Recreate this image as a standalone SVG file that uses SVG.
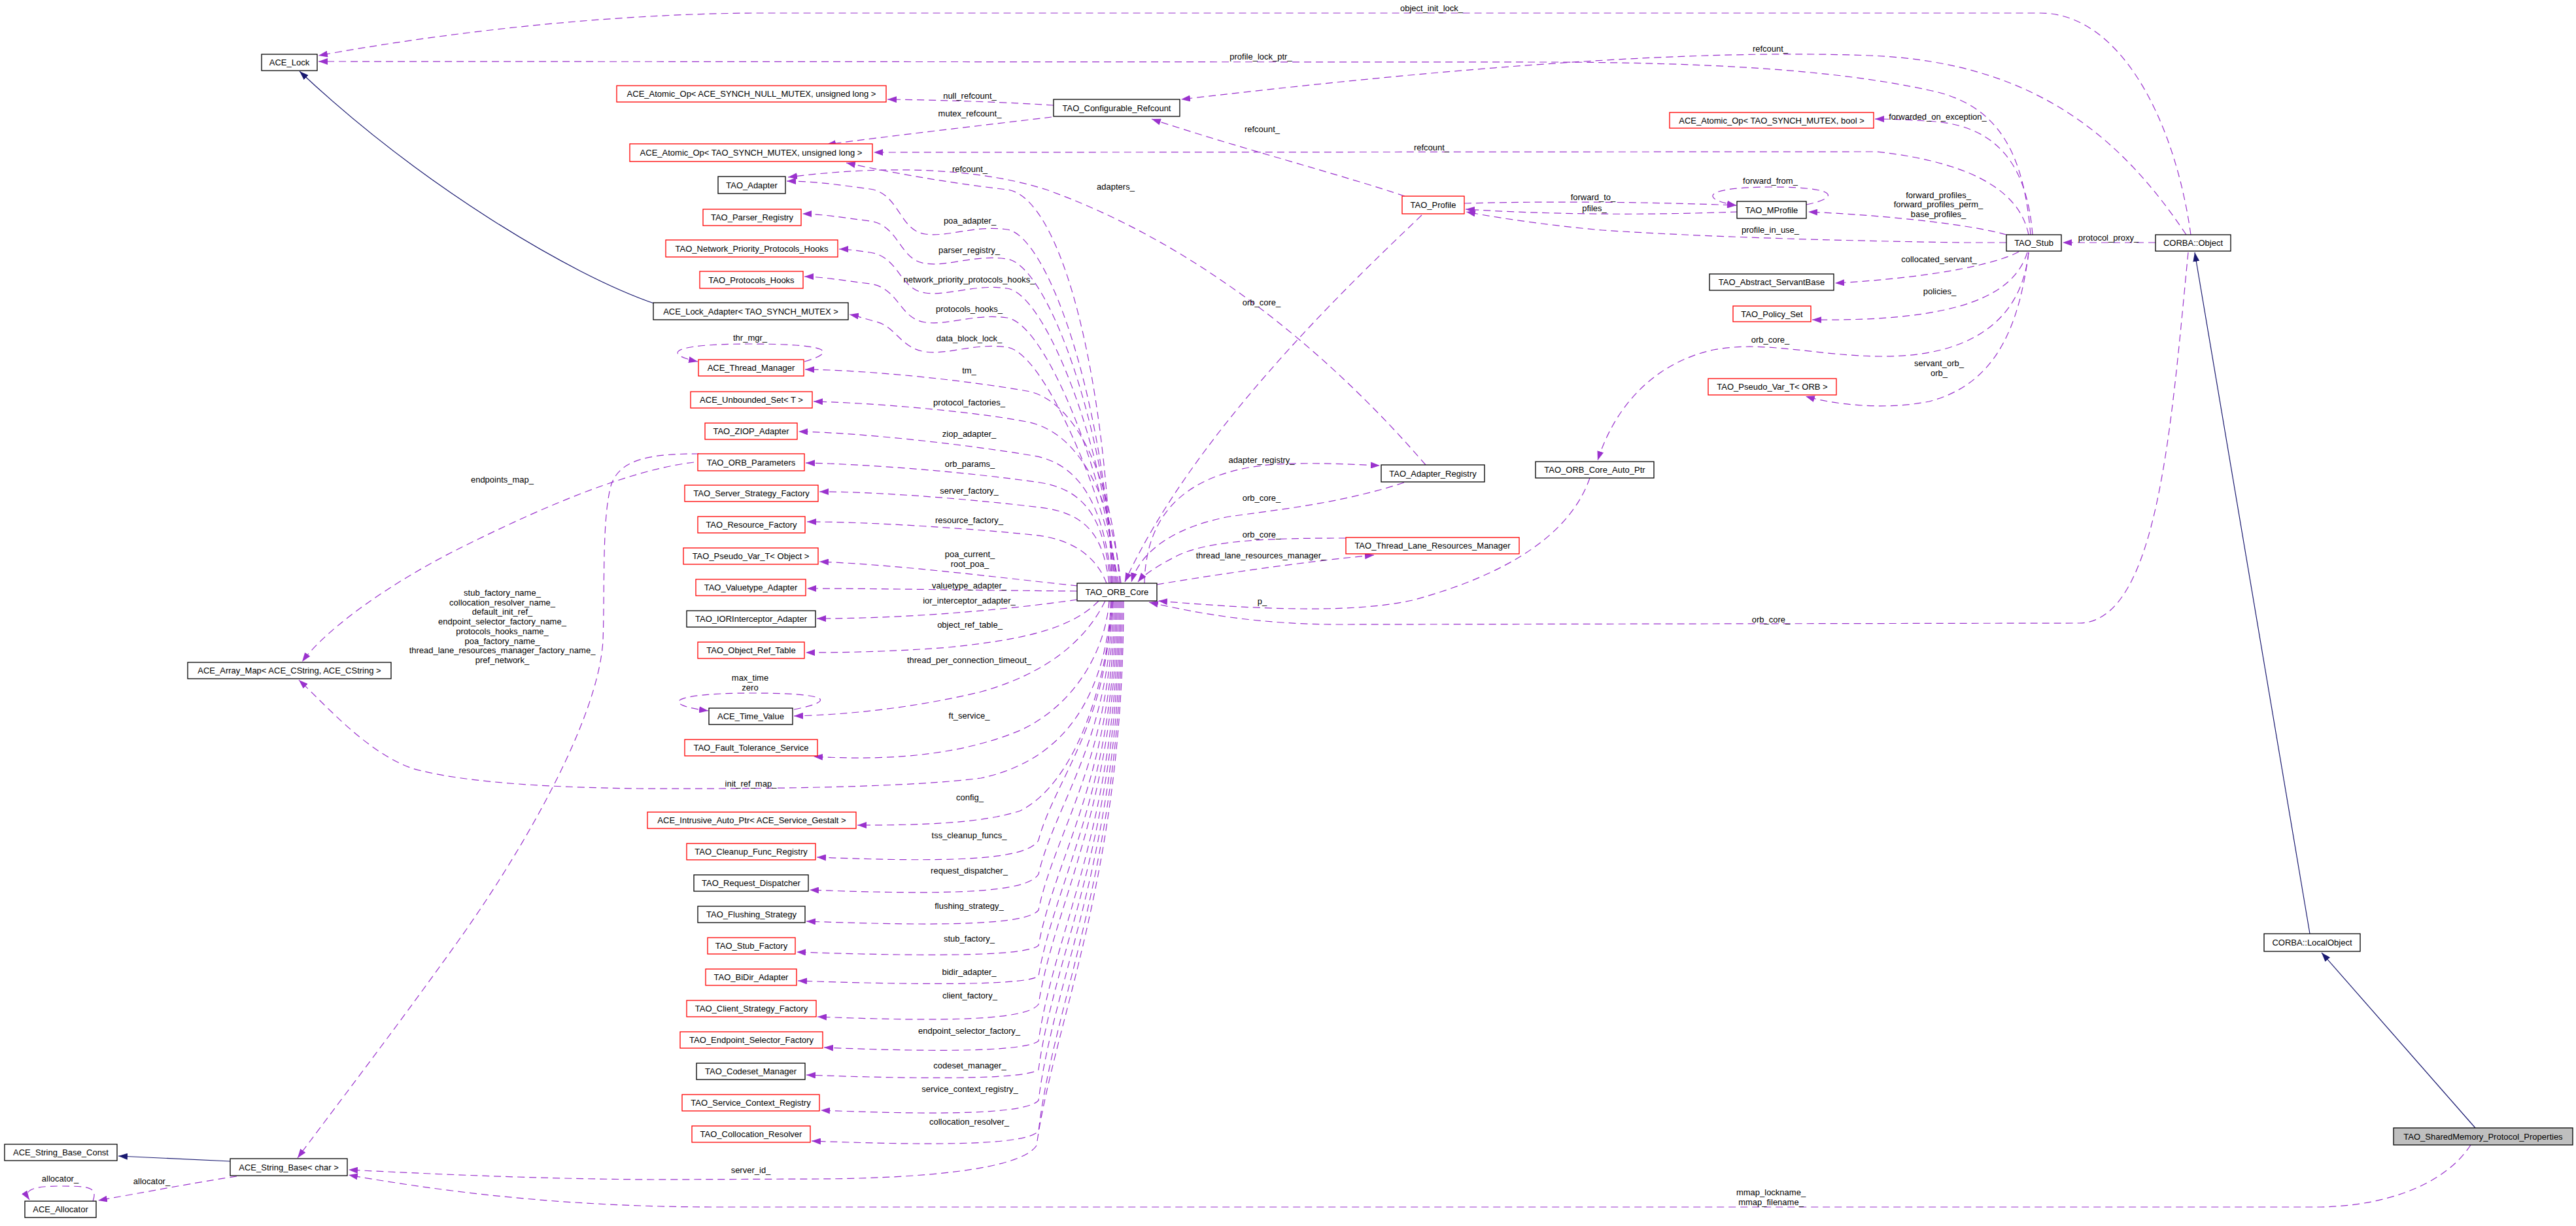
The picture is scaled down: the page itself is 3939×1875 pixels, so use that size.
<svg xmlns="http://www.w3.org/2000/svg" width="3939" height="1875" viewBox="0 0 3939 1875">
<style>
text{font-family:"Liberation Sans",Arial,Helvetica,sans-serif;font-size:13px;fill:#000}
.n rect{fill:#fff;stroke:#000;stroke-width:1.3}
.r rect{stroke:#f00}
.g rect{fill:#bfbfbf}
.n text{text-anchor:middle}
#edges text{text-anchor:middle}
.e path{fill:none;stroke:#9a32cd;stroke-width:1.2;stroke-dasharray:11,7;marker-end:url(#ap)}
.i path{fill:none;stroke:#191970;stroke-width:1.2;marker-end:url(#ai)}
</style>
<defs>
<marker id="ap" markerUnits="userSpaceOnUse" markerWidth="14" markerHeight="10" refX="14" refY="5" orient="auto"><path d="M0,0 L14,5 L0,10 z" fill="#9a32cd"/></marker>
<marker id="ai" markerUnits="userSpaceOnUse" markerWidth="14" markerHeight="10" refX="14" refY="5" orient="auto"><path d="M0,0 L14,5 L0,10 z" fill="#191970"/></marker>
</defs>
<rect width="3939" height="1875" fill="#fff"/>
<g id="edges">
<g class="i">
<path d="M1003,465 C870,420 640,280 458,109"/>
<path d="M352,1776 L181,1768"/>
<path d="M3532,1428 L3356,386"/>
<path d="M3785,1725 L3550,1457"/>
</g>
<g class="e">
<path d="M3350,359 C3325,180 3240,20 3120,20 L1150,20 C900,22 650,55 487,85"/>
<path d="M3105,359 C3095,240 3060,160 2950,138 C2800,105 2600,96 2380,95 L487,94"/>
<path d="M3343,359 C3250,220 3120,95 2860,85 C2600,75 2250,100 1806,152"/>
<path d="M1611,161 C1550,157 1450,153 1357,152"/>
<path d="M1608,179 C1500,192 1360,208 1264,221"/>
<path d="M3108,359 C3100,260 3060,195 2960,186 C2920,183 2890,182 2867,182"/>
<path d="M2148,300 C2060,270 1880,222 1761,182"/>
<path d="M3102,359 C3090,300 3030,250 2870,232 L1336,233"/>
<path d="M1700,892 C1690,560 1620,300 1540,290 C1470,282 1380,268 1294,249"/>
<path d="M2762,313 C2815,302 2810,286 2710,286 C2600,286 2600,305 2655,314"/>
<path d="M2180,711 C2050,560 1850,380 1600,290 C1480,252 1330,255 1205,271"/>
<path d="M3068,359 C3020,345 2900,330 2765,324"/>
<path d="M2239,311 C2350,308 2500,308 2655,314"/>
<path d="M2657,324 C2550,328 2400,330 2241,320"/>
<path d="M1702,892 C1687,598 1600,360 1540,351 C1490,344 1450,363 1415,358 C1375,353 1375,295 1330,289 C1290,284 1250,277 1203,277"/>
<path d="M3068,371 L3000,371 C2800,368 2600,362 2450,352 C2380,346 2300,335 2242,324"/>
<path d="M3296,371 L3154,371"/>
<path d="M1704,892 C1689,643 1600,405 1540,396 C1490,389 1450,408 1415,403 C1375,398 1375,344 1330,338 C1290,333 1255,327 1227,327"/>
<path d="M3087,385 C3050,405 2950,425 2806,433"/>
<path d="M1706,892 C1691,688 1600,450 1540,441 C1490,434 1450,453 1415,448 C1375,443 1375,392 1330,386 C1310,383 1295,381 1283,381"/>
<path d="M3100,386 C3080,450 3000,492 2771,489"/>
<path d="M2174,329 C2090,410 1830,650 1720,890"/>
<path d="M1708,892 C1693,733 1600,495 1540,486 C1490,479 1450,498 1415,493 C1375,488 1375,440 1330,434 C1290,429 1255,423 1230,423"/>
<path d="M1710,892 C1695,778 1600,540 1540,531 C1490,524 1450,543 1415,538 C1378,533 1370,500 1340,492 C1320,487 1310,483 1299,481"/>
<path d="M1230,553 C1275,540 1280,526 1147,526 C1020,526 1015,542 1067,553"/>
<path d="M3102,386 C3090,500 3000,545 2880,545 C2780,545 2700,520 2620,535 C2530,555 2470,620 2443,704"/>
<path d="M3102,386 C3085,520 3040,590 2950,614 C2880,628 2800,618 2761,606"/>
<path d="M1712,892 C1700,720 1640,610 1570,598 C1480,582 1330,566 1231,565"/>
<path d="M1714,892 C1700,760 1650,660 1570,645 C1480,628 1330,616 1244,614"/>
<path d="M1700,892 C1690,790 1660,710 1580,697 C1480,680 1320,662 1221,660"/>
<path d="M1750,892 C1752,780 1820,720 1950,710 C2010,707 2060,710 2110,712"/>
<path d="M1698,892 C1690,810 1670,750 1590,738 C1480,722 1330,710 1232,708"/>
<path d="M1061,707 C950,720 800,790 700,840 C600,890 500,960 462,1012"/>
<path d="M1696,892 C1688,830 1670,785 1590,776 C1500,765 1350,752 1253,752"/>
<path d="M2147,738 C2050,770 1950,780 1880,790 C1800,805 1745,840 1730,890"/>
<path d="M1692,892 C1680,860 1650,825 1580,818 C1480,808 1330,798 1234,798"/>
<path d="M2058,823 C1950,823 1850,825 1800,850 C1770,865 1748,880 1740,890"/>
<path d="M1648,896 C1550,886 1380,864 1253,859"/>
<path d="M1769,894 C1850,880 2000,858 2101,849"/>
<path d="M1647,904 C1500,903 1350,900 1234,900"/>
<path d="M1069,694 C1000,694 950,700 935,740 C920,790 925,900 922,980 C915,1100 800,1300 700,1440 C600,1580 500,1710 455,1771"/>
<path d="M2431,731 C2400,820 2300,880 2160,918 C2060,940 1900,930 1771,919"/>
<path d="M1647,917 C1560,930 1400,946 1249,946"/>
<path d="M3346,386 C3320,650 3300,950 3180,953 L2050,955 C1930,955 1840,940 1757,921"/>
<path d="M1680,919 C1640,960 1570,978 1450,990 C1360,997 1290,998 1232,998"/>
<path d="M1690,919 C1660,980 1600,1030 1500,1058 C1400,1082 1300,1093 1214,1095"/>
<path d="M1214,1085 C1280,1072 1270,1060 1150,1060 C1020,1060 1010,1078 1083,1087"/>
<path d="M1696,919 C1690,1000 1640,1080 1560,1117 C1480,1150 1380,1165 1244,1157"/>
<path d="M1700,919 C1690,1050 1640,1160 1500,1190 C1400,1203 1200,1207 976,1206 C820,1204 700,1195 630,1175 C560,1150 500,1080 457,1040"/>
<path d="M1702,919 C1690,1060 1640,1200 1560,1240 C1500,1260 1400,1262 1311,1262"/>
<path d="M1698,919 C1698,1102 1612,1194 1588,1285 C1570,1316 1450,1319 1249,1311"/>
<path d="M1700,919 C1700,1128 1612,1232 1588,1337 C1570,1366 1450,1369 1238,1361"/>
<path d="M1702,919 C1702,1155 1612,1274 1588,1392 C1570,1414 1450,1417 1233,1409"/>
<path d="M1704,919 C1704,1182 1612,1314 1588,1446 C1570,1461 1450,1464 1218,1456"/>
<path d="M1706,919 C1706,1206 1612,1350 1588,1493 C1570,1505 1450,1508 1220,1500"/>
<path d="M1708,919 C1708,1227 1612,1382 1588,1536 C1570,1560 1450,1563 1250,1555"/>
<path d="M1710,919 C1710,1255 1612,1424 1588,1592 C1570,1607 1450,1610 1260,1602"/>
<path d="M1712,919 C1712,1277 1612,1457 1588,1636 C1570,1649 1450,1652 1233,1644"/>
<path d="M1714,919 C1714,1301 1612,1492 1588,1683 C1570,1703 1450,1706 1255,1698"/>
<path d="M1716,919 C1716,1324 1612,1527 1588,1730 C1570,1750 1450,1753 1241,1745"/>
<path d="M1718,919 C1718,1340 1612,1560 1585,1752 C1560,1790 1400,1802 1255,1803 L1000,1804 C820,1803 650,1795 533,1789"/>
<path d="M3778,1751 C3740,1810 3650,1846 3540,1846 L1100,1846 C900,1846 720,1830 533,1797"/>
<path d="M362,1799 C320,1805 250,1818 150,1836"/>
<path d="M142,1837 C150,1815 135,1814 92,1814 C50,1814 35,1820 45,1835"/>
</g>
<text x="2189" y="17">object_init_lock_</text>
<text x="1928" y="91">profile_lock_ptr_</text>
<text x="2707" y="79">refcount_</text>
<text x="1483" y="151">null_refcount_</text>
<text x="1483" y="178">mutex_refcount_</text>
<text x="2963" y="183">forwarded_on_exception_</text>
<text x="1930" y="202">refcount_</text>
<text x="2189" y="230">refcount_</text>
<text x="1483" y="263">refcount_</text>
<text x="2707" y="281">forward_from_</text>
<text x="1706" y="290">adapters_</text>
<text x="2964" y="303">forward_profiles_</text>
<text x="2964" y="317">forward_profiles_perm_</text>
<text x="2964" y="332">base_profiles_</text>
<text x="2436" y="306">forward_to_</text>
<text x="2438" y="323">pfiles_</text>
<text x="1483" y="342">poa_adapter_</text>
<text x="2707" y="356">profile_in_use_</text>
<text x="3224" y="368">protocol_proxy_</text>
<text x="1482" y="387">parser_registry_</text>
<text x="2965" y="401">collocated_servant_</text>
<text x="1482" y="432">network_priority_protocols_hooks_</text>
<text x="2966" y="450">policies_</text>
<text x="1929" y="467">orb_core_</text>
<text x="1482" y="477">protocols_hooks_</text>
<text x="1482" y="522">data_block_lock_</text>
<text x="1147" y="521">thr_mgr_</text>
<text x="2707" y="524">orb_core_</text>
<text x="2965" y="560">servant_orb_</text>
<text x="2965" y="575">orb_</text>
<text x="1482" y="571">tm_</text>
<text x="1482" y="620">protocol_factories_</text>
<text x="1482" y="668">ziop_adapter_</text>
<text x="1929" y="708">adapter_registry_</text>
<text x="1483" y="714">orb_params_</text>
<text x="768" y="738">endpoints_map_</text>
<text x="1482" y="755">server_factory_</text>
<text x="1929" y="766">orb_core_</text>
<text x="1482" y="800">resource_factory_</text>
<text x="1929" y="822">orb_core_</text>
<text x="1483" y="852">poa_current_</text>
<text x="1483" y="867">root_poa_</text>
<text x="1928" y="854">thread_lane_resources_manager_</text>
<text x="1482" y="900">valuetype_adapter_</text>
<text x="768" y="911">stub_factory_name_<tspan x="768" dy="14.7">collocation_resolver_name_</tspan><tspan x="768" dy="14.7">default_init_ref_</tspan><tspan x="768" dy="14.7">endpoint_selector_factory_name_</tspan><tspan x="768" dy="14.7">protocols_hooks_name_</tspan><tspan x="768" dy="14.7">poa_factory_name_</tspan><tspan x="768" dy="14.7">thread_lane_resources_manager_factory_name_</tspan><tspan x="768" dy="14.7">pref_network_</tspan></text>
<text x="1930" y="924">p_</text>
<text x="1482" y="923">ior_interceptor_adapter_</text>
<text x="2708" y="952">orb_core_</text>
<text x="1483" y="960">object_ref_table_</text>
<text x="1482" y="1014">thread_per_connection_timeout_</text>
<text x="1147" y="1041">max_time</text>
<text x="1147" y="1056">zero</text>
<text x="1482" y="1099">ft_service_</text>
<text x="1148" y="1203">init_ref_map_</text>
<text x="1483" y="1224">config_</text>
<text x="1482" y="1282">tss_cleanup_funcs_</text>
<text x="1482" y="1336">request_dispatcher_</text>
<text x="1482" y="1390">flushing_strategy_</text>
<text x="1482" y="1440">stub_factory_</text>
<text x="1482" y="1491">bidir_adapter_</text>
<text x="1483" y="1527">client_factory_</text>
<text x="1482" y="1581">endpoint_selector_factory_</text>
<text x="1483" y="1634">codeset_manager_</text>
<text x="1483" y="1670">service_context_registry_</text>
<text x="1482" y="1720">collocation_resolver_</text>
<text x="1148" y="1794">server_id_</text>
<text x="92" y="1807">allocator_</text>
<text x="232" y="1811">allocator_</text>
<text x="2708" y="1828">mmap_lockname_</text>
<text x="2708" y="1843">mmap_filename_</text>
</g>
<g id="n_ace_lock" class="n"><rect x="400" y="83" width="85" height="25"/><text x="442.5" y="100">ACE_Lock</text></g>
<g id="n_atomic_null" class="n r"><rect x="943" y="131" width="412" height="25"/><text x="1149" y="148">ACE_Atomic_Op&lt; ACE_SYNCH_NULL_MUTEX, unsigned long &gt;</text></g>
<g id="n_conf_refcount" class="n"><rect x="1611" y="152" width="193" height="26"/><text x="1707.5" y="169.5">TAO_Configurable_Refcount</text></g>
<g id="n_atomic_ul" class="n r"><rect x="963" y="220" width="371" height="27"/><text x="1148.5" y="238">ACE_Atomic_Op&lt; TAO_SYNCH_MUTEX, unsigned long &gt;</text></g>
<g id="n_tao_adapter" class="n"><rect x="1098" y="270" width="103" height="26"/><text x="1149.5" y="287.5">TAO_Adapter</text></g>
<g id="n_parser_registry" class="n r"><rect x="1075" y="320" width="150" height="25"/><text x="1150" y="337">TAO_Parser_Registry</text></g>
<g id="n_nph" class="n r"><rect x="1018" y="367" width="263" height="26"/><text x="1149.5" y="384.5">TAO_Network_Priority_Protocols_Hooks</text></g>
<g id="n_protocols_hooks" class="n r"><rect x="1070" y="415" width="158" height="26"/><text x="1149" y="432.5">TAO_Protocols_Hooks</text></g>
<g id="n_lock_adapter" class="n"><rect x="999" y="463" width="298" height="26"/><text x="1148" y="480.5">ACE_Lock_Adapter&lt; TAO_SYNCH_MUTEX &gt;</text></g>
<g id="n_thread_manager" class="n r"><rect x="1068" y="550" width="161" height="25"/><text x="1148.5" y="567">ACE_Thread_Manager</text></g>
<g id="n_unbounded_set" class="n r"><rect x="1056" y="599" width="186" height="25"/><text x="1149" y="616">ACE_Unbounded_Set&lt; T &gt;</text></g>
<g id="n_ziop" class="n r"><rect x="1078" y="647" width="141" height="25"/><text x="1148.5" y="664">TAO_ZIOP_Adapter</text></g>
<g id="n_orb_params" class="n r"><rect x="1067" y="694" width="163" height="26"/><text x="1148.5" y="711.5">TAO_ORB_Parameters</text></g>
<g id="n_server_sf" class="n r"><rect x="1047" y="742" width="204" height="25"/><text x="1149" y="759">TAO_Server_Strategy_Factory</text></g>
<g id="n_resource_factory" class="n r"><rect x="1067" y="790" width="164" height="25"/><text x="1149" y="807">TAO_Resource_Factory</text></g>
<g id="n_pvt_object" class="n r"><rect x="1045" y="838" width="206" height="25"/><text x="1148" y="855">TAO_Pseudo_Var_T&lt; Object &gt;</text></g>
<g id="n_valuetype" class="n r"><rect x="1064" y="886" width="168" height="25"/><text x="1148" y="903">TAO_Valuetype_Adapter</text></g>
<g id="n_ior" class="n"><rect x="1050" y="934" width="197" height="25"/><text x="1148.5" y="951">TAO_IORInterceptor_Adapter</text></g>
<g id="n_ort" class="n r"><rect x="1067" y="982" width="163" height="25"/><text x="1148.5" y="999">TAO_Object_Ref_Table</text></g>
<g id="n_time_value" class="n"><rect x="1084" y="1083" width="128" height="25"/><text x="1148" y="1100">ACE_Time_Value</text></g>
<g id="n_ft" class="n r"><rect x="1047" y="1131" width="203" height="25"/><text x="1148.5" y="1148">TAO_Fault_Tolerance_Service</text></g>
<g id="n_intrusive" class="n r"><rect x="990" y="1242" width="319" height="25"/><text x="1149.5" y="1259">ACE_Intrusive_Auto_Ptr&lt; ACE_Service_Gestalt &gt;</text></g>
<g id="n_cleanup" class="n r"><rect x="1050" y="1290" width="197" height="25"/><text x="1148.5" y="1307">TAO_Cleanup_Func_Registry</text></g>
<g id="n_request_dispatcher" class="n"><rect x="1061" y="1338" width="175" height="25"/><text x="1148.5" y="1355">TAO_Request_Dispatcher</text></g>
<g id="n_flushing" class="n"><rect x="1067" y="1386" width="164" height="25"/><text x="1149" y="1403">TAO_Flushing_Strategy</text></g>
<g id="n_stub_factory" class="n r"><rect x="1082" y="1434" width="134" height="25"/><text x="1149" y="1451">TAO_Stub_Factory</text></g>
<g id="n_bidir" class="n r"><rect x="1079" y="1482" width="139" height="25"/><text x="1148.5" y="1499">TAO_BiDir_Adapter</text></g>
<g id="n_client_sf" class="n r"><rect x="1050" y="1530" width="198" height="25"/><text x="1149" y="1547">TAO_Client_Strategy_Factory</text></g>
<g id="n_endpoint_sf" class="n r"><rect x="1040" y="1578" width="218" height="25"/><text x="1149" y="1595">TAO_Endpoint_Selector_Factory</text></g>
<g id="n_codeset" class="n"><rect x="1065" y="1626" width="166" height="25"/><text x="1148" y="1643">TAO_Codeset_Manager</text></g>
<g id="n_scr" class="n r"><rect x="1043" y="1674" width="210" height="25"/><text x="1148" y="1691">TAO_Service_Context_Registry</text></g>
<g id="n_collocation" class="n r"><rect x="1058" y="1722" width="181" height="25"/><text x="1148.5" y="1739">TAO_Collocation_Resolver</text></g>
<g id="n_sbc" class="n"><rect x="7" y="1750" width="172" height="25"/><text x="93" y="1767">ACE_String_Base_Const</text></g>
<g id="n_sb_char" class="n"><rect x="352" y="1772" width="179" height="26"/><text x="441.5" y="1789.5">ACE_String_Base&lt; char &gt;</text></g>
<g id="n_allocator" class="n"><rect x="38" y="1837" width="109" height="25"/><text x="92.5" y="1854">ACE_Allocator</text></g>
<g id="n_array_map" class="n"><rect x="287" y="1013" width="311" height="25"/><text x="442.5" y="1030">ACE_Array_Map&lt; ACE_CString, ACE_CString &gt;</text></g>
<g id="n_orb_core" class="n"><rect x="1647" y="892" width="122" height="27"/><text x="1708" y="910">TAO_ORB_Core</text></g>
<g id="n_adapter_registry" class="n"><rect x="2112" y="711" width="158" height="26"/><text x="2191" y="728.5">TAO_Adapter_Registry</text></g>
<g id="n_orb_core_auto_ptr" class="n"><rect x="2348" y="706" width="181" height="25"/><text x="2438.5" y="723">TAO_ORB_Core_Auto_Ptr</text></g>
<g id="n_tlrm" class="n r"><rect x="2058" y="822" width="265" height="25"/><text x="2190.5" y="839">TAO_Thread_Lane_Resources_Manager</text></g>
<g id="n_atomic_bool" class="n r"><rect x="2553" y="172" width="312" height="24"/><text x="2709" y="188.5">ACE_Atomic_Op&lt; TAO_SYNCH_MUTEX, bool &gt;</text></g>
<g id="n_profile" class="n r"><rect x="2144" y="300" width="95" height="27"/><text x="2191.5" y="318">TAO_Profile</text></g>
<g id="n_mprofile" class="n"><rect x="2656" y="308" width="106" height="26"/><text x="2709" y="325.5">TAO_MProfile</text></g>
<g id="n_servant_base" class="n"><rect x="2614" y="419" width="190" height="25"/><text x="2709" y="436">TAO_Abstract_ServantBase</text></g>
<g id="n_policy_set" class="n r"><rect x="2650" y="468" width="119" height="24"/><text x="2709.5" y="484.5">TAO_Policy_Set</text></g>
<g id="n_pvt_orb" class="n r"><rect x="2612" y="579" width="196" height="25"/><text x="2710" y="596">TAO_Pseudo_Var_T&lt; ORB &gt;</text></g>
<g id="n_stub" class="n"><rect x="3068" y="359" width="84" height="25"/><text x="3110" y="376">TAO_Stub</text></g>
<g id="n_corba_object" class="n"><rect x="3296" y="359" width="115" height="25"/><text x="3353.5" y="376">CORBA::Object</text></g>
<g id="n_local_object" class="n"><rect x="3462" y="1428" width="147" height="27"/><text x="3535.5" y="1446">CORBA::LocalObject</text></g>
<g id="n_shm_props" class="n g"><rect x="3660" y="1725" width="274" height="26"/><text x="3797" y="1742.5">TAO_SharedMemory_Protocol_Properties</text></g>
</svg>
